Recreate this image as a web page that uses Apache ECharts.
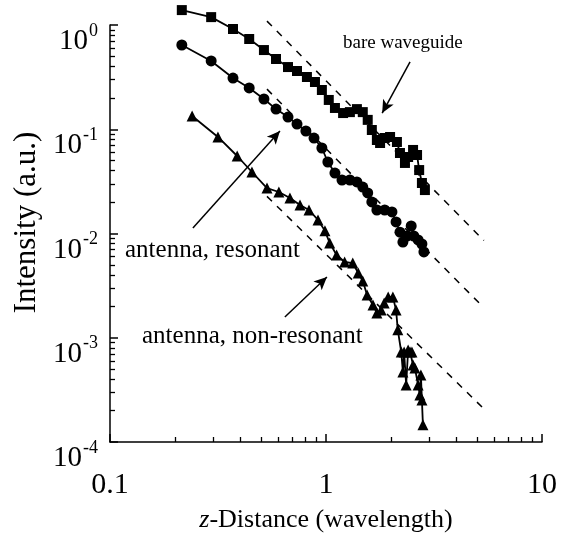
<!DOCTYPE html>
<html>
<head>
<meta charset="utf-8">
<script src="https://cdn.jsdelivr.net/npm/echarts@6/dist/echarts.min.js"></script>
<style>html,body{margin:0;padding:0;background:#fff}#c{width:568px;height:541px}</style>
</head>
<body>
<div id="c"></div>
<script>
// bare waveguide (squares)
const bareX = [0.215,0.294,0.371,0.441,0.516,0.587,0.667,0.734,0.816,0.889,0.957,1.03,1.10,1.20,1.29,1.39,1.48,1.56,1.63,1.72,1.78,1.87,1.98,2.13,2.20,2.32,2.40,2.53,2.64,2.70,2.78,2.87];
const bareY = [1.39,1.19,0.915,0.734,0.575,0.472,0.395,0.362,0.317,0.284,0.238,0.191,0.160,0.143,0.146,0.156,0.146,0.123,0.0984,0.0789,0.0738,0.0824,0.0843,0.0755,0.0592,0.0475,0.0542,0.0633,0.0566,0.0406,0.0305,0.0261];
// antenna, resonant (circles)
const resX = [0.215,0.294,0.371,0.441,0.516,0.587,0.667,0.734,0.807,0.880,0.957,1.02,1.10,1.186,1.29,1.39,1.48,1.56,1.63,1.72,1.87,2.02,2.11,2.20,2.27,2.37,2.48,2.55,2.67,2.78,2.84];
const resY = [0.643,0.452,0.310,0.249,0.195,0.156,0.131,0.112,0.0962,0.0824,0.0661,0.0485,0.0380,0.0326,0.0326,0.0312,0.0279,0.0245,0.0201,0.0168,0.0168,0.0161,0.0129,0.0103,0.00828,0.00946,0.0118,0.00946,0.00867,0.00793,0.00665];
// antenna, non-resonant (triangles)
const nonX = [0.240,0.316,0.388,0.454,0.533,0.605,0.681,0.758,0.834,0.918,0.989,1.04,1.12,1.22,1.33,1.41,1.48,1.55,1.65,1.72,1.80,1.86,1.94,2.04,2.11,2.15,2.23,2.27,2.30,2.35,2.40,2.45,2.50,2.53,2.58,2.67,2.72,2.75,2.78,2.81];
const nonY = [0.134,0.0843,0.0554,0.0389,0.0273,0.0250,0.0219,0.0188,0.0168,0.0135,0.0106,0.00811,0.00622,0.00533,0.00521,0.00418,0.00350,0.00257,0.00206,0.00173,0.00185,0.00215,0.00246,0.00246,0.00185,0.00119,0.00073,0.000469,0.00073,0.000352,0.000763,0.00073,0.00073,0.000548,0.000513,0.000352,0.000282,0.00044,0.000253,0.000146];
// dashed z^-2 guide lines [x0, x1], [y0, y1]
const guideX = [0.533, 5.38];
const guide1Y = [1.09, 0.00857];
const guide2Y = [0.2425, 0.00194];
const guide3Y = [0.0227, 0.000208];
// axis ranges & tick labels
const xMin = 0.1, xMax = 10, yMin = 1e-4, yMax = 1;
const xTickLabels = {0.1: '0.1', 1: '1', 10: '10'};
// annotations: text and arrow [from, to] in data coords
const annoTexts = ['bare waveguide', 'antenna, resonant', 'antenna, non-resonant'];
const arrows = [
  [[2.45, 0.442], [1.82, 0.143]],
  [[0.242, 0.0113], [0.612, 0.0962]],
  [[0.645, 0.00158], [1.01, 0.00383]]
];

const FONT = '"Liberation Serif", "Times New Roman", serif';
const zip = (a, b) => a.map((v, i) => [v, b[i]]);

const chart = echarts.init(document.getElementById('c'), null, {renderer: 'canvas'});

function dataSeries(x, y, symbol, size) {
  return {
    type: 'line', data: zip(x, y), symbol: symbol, symbolSize: size,
    showAllSymbol: true, clip: false, z: 3,
    lineStyle: {color: '#000', width: 1.8},
    itemStyle: {color: '#000'}, animation: false
  };
}
function guideSeries(y) {
  return {
    type: 'line', data: zip(guideX, y), symbol: 'none', clip: false,
    lineStyle: {color: '#000', width: 1.5, type: [7, 7]}, animation: false, z: 2
  };
}
function minorTick() {
  return {show: true, splitNumber: 9, length: 5, lineStyle: {color: '#000', width: 1.3}};
}

chart.setOption({
  backgroundColor: '#fff',
  animation: false,
  grid: {left: 110, right: 26, top: 25, bottom: 99, containLabel: false},
  xAxis: {
    type: 'log', logBase: 10, min: xMin, max: xMax,
    name: '{i|z}-Distance (wavelength)', nameLocation: 'middle', nameGap: 65,
    nameTextStyle: {fontFamily: FONT, fontSize: 26, color: '#000',
      rich: {i: {fontFamily: FONT, fontSize: 26, fontStyle: 'italic', color: '#000'}}},
    axisLine: {lineStyle: {color: '#000', width: 1.5}},
    axisTick: {inside: true, length: 8, lineStyle: {color: '#000', width: 1.5}},
    minorTick: minorTick(),
    axisLabel: {fontFamily: FONT, fontSize: 30, color: '#000', margin: 28,
      formatter: v => xTickLabels[+v.toPrecision(3)] || ''},
    splitLine: {show: false}, minorSplitLine: {show: false}
  },
  yAxis: {
    type: 'log', logBase: 10, min: yMin, max: yMax,
    name: 'Intensity (a.u.)', nameLocation: 'middle', nameGap: 64,
    nameTextStyle: {fontFamily: FONT, fontSize: 31, color: '#000', padding: [0, 0, 0, 22]},
    axisLine: {lineStyle: {color: '#000', width: 1.5}},
    axisTick: {inside: true, length: 8, lineStyle: {color: '#000', width: 1.5}},
    minorTick: minorTick(),
    axisLabel: {margin: 12, color: '#000',
      formatter: v => '{b|10}{s|' + Math.round(Math.log10(v)) + '}',
      rich: {
        b: {fontFamily: FONT, fontSize: 29, lineHeight: 28, color: '#000', padding: [16, 0, 0, 0], verticalAlign: 'top'},
        s: {fontFamily: FONT, fontSize: 18, lineHeight: 18, color: '#000', padding: [11, 0, 0, 1], verticalAlign: 'top'}
      }},
    splitLine: {show: false}, minorSplitLine: {show: false}
  },
  series: [
    dataSeries(bareX, bareY, 'rect', 10),
    dataSeries(resX, resY, 'circle', 11),
    dataSeries(nonX, nonY, 'triangle', 11),
    guideSeries(guide1Y), guideSeries(guide2Y), guideSeries(guide3Y),
    {
      type: 'line', data: [], symbol: 'none',
      markLine: {
        silent: true, symbol: ['none', 'arrow'], symbolSize: [9, 13],
        label: {show: false},
        lineStyle: {color: '#000', width: 1.5, type: 'solid'},
        data: arrows.map(a => [{coord: a[0]}, {coord: a[1]}])
      }
    }
  ],
  graphic: [
    {type: 'text', left: 343, top: 34, style: {text: annoTexts[0], font: '19px ' + FONT, fill: '#000'}},
    {type: 'text', left: 125, top: 238, style: {text: annoTexts[1], font: '25px ' + FONT, fill: '#000'}},
    {type: 'text', left: 142, top: 324, style: {text: annoTexts[2], font: '25px ' + FONT, fill: '#000'}}
  ]
});
</script>
</body>
</html>
